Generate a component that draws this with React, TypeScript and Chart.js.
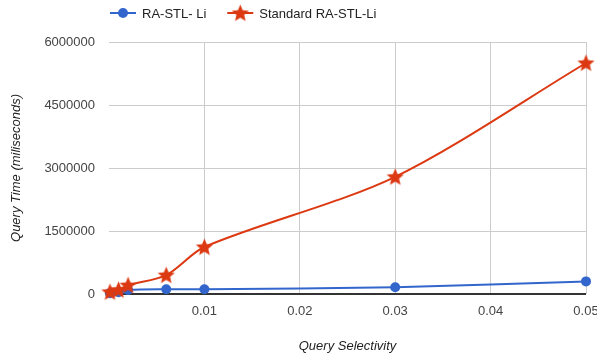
import { useEffect, useRef } from 'react';
import { Chart, registerables } from 'chart.js';

Chart.register(...registerables);

const selectivity = [0.0001, 0.001, 0.002, 0.006, 0.01, 0.03, 0.05];
const raStlLi = [20000, 40000, 95000, 115000, 115000, 160000, 300000];
const standardRaStlLi = [50000, 100000, 210000, 450000, 1120000, 2790000, 5500000];
const seriesLabels = ['RA-STL- Li', 'Standard RA-STL-Li'];
const seriesColors = ['#3366cc', '#dc3912'];
const yTicks = [0, 1500000, 3000000, 4500000, 6000000];
const xTicks = [0.01, 0.02, 0.03, 0.04, 0.05];
const xTitle = 'Query Selectivity';
const yTitle = 'Query Time (miliseconds)';

const FONT = '"Liberation Sans", Arial, sans-serif';

function makeStar(color: string, size: number) {
  const c = document.createElement('canvas');
  c.width = size;
  c.height = size;
  const ctx = c.getContext('2d')!;
  const cx = size / 2;
  const cy = size / 2 + 0.6;
  const outer = size / 2 - 0.5;
  const inner = outer * 0.45;
  ctx.beginPath();
  for (let i = 0; i < 10; i++) {
    const r = i % 2 === 0 ? outer : inner;
    const a = -Math.PI / 2 + (i * Math.PI) / 5;
    const px = cx + r * Math.cos(a);
    const py = cy + r * Math.sin(a);
    if (i === 0) ctx.moveTo(px, py);
    else ctx.lineTo(px, py);
  }
  ctx.closePath();
  ctx.fillStyle = color;
  ctx.fill();
  return c;
}

export default function App() {
  const ref = useRef<HTMLCanvasElement | null>(null);

  useEffect(() => {
    if (!ref.current) return;
    const star = makeStar(seriesColors[1], 19);

    const legendPlugin = {
      id: 'customLegend',
      afterDraw(chart: any) {
        const ctx = chart.ctx;
        ctx.save();
        ctx.font = `13px ${FONT}`;
        ctx.textBaseline = 'middle';
        ctx.textAlign = 'left';
        let x = 110;
        const y = 13;
        chart.data.datasets.forEach((ds: any, i: number) => {
          ctx.strokeStyle = ds.borderColor;
          ctx.lineWidth = 2;
          ctx.beginPath();
          ctx.moveTo(x, y);
          ctx.lineTo(x + 26, y);
          ctx.stroke();
          if (i === 0) {
            ctx.fillStyle = ds.borderColor;
            ctx.beginPath();
            ctx.arc(x + 13, y, 5, 0, Math.PI * 2);
            ctx.fill();
          } else {
            ctx.drawImage(star, x + 13 - star.width / 2, y - star.height / 2);
          }
          ctx.fillStyle = '#222';
          ctx.fillText(ds.label, x + 32, y + 1);
          x += 32 + ctx.measureText(ds.label).width + 21;
        });
        ctx.restore();
      },
    };

    const chart = new Chart(ref.current, {
      type: 'line',
      data: {
        datasets: [
          {
            label: seriesLabels[0],
            data: selectivity.map((x, i) => ({ x, y: raStlLi[i] })),
            borderColor: seriesColors[0],
            backgroundColor: seriesColors[0],
            borderWidth: 2,
            pointRadius: 5,
            pointBorderWidth: 0,
            pointHoverRadius: 5,
            pointStyle: 'circle',
            tension: 0.3,
            order: 1,
            clip: false as any,
          },
          {
            label: seriesLabels[1],
            data: selectivity.map((x, i) => ({ x, y: standardRaStlLi[i] })),
            borderColor: seriesColors[1],
            backgroundColor: seriesColors[1],
            borderWidth: 2,
            pointStyle: star as any,
            pointRadius: 9,
            tension: 0.3,
            order: 0,
            clip: false as any,
          },
        ],
      },
      options: {
        animation: false,
        responsive: false,
        maintainAspectRatio: false,
        layout: { padding: { top: 42, right: 11, left: 0, bottom: 0 } },
        plugins: {
          legend: { display: false },
          tooltip: { enabled: false },
        },
        scales: {
          x: {
            type: 'linear',
            min: 0,
            max: 0.05,
            afterBuildTicks: (scale: any) => {
              scale.ticks = [{ value: 0 }, ...xTicks.map((v) => ({ value: v }))];
            },
            afterFit: (scale: any) => {
              scale.height = 62;
              scale.paddingLeft = 0;
              scale.paddingRight = 0;
            },
            grid: {
              drawTicks: false,
              color: (c: any) => (c.tick && c.tick.value === 0 ? 'rgba(0,0,0,0)' : '#cccccc'),
              lineWidth: 1,
            },
            border: { display: false },
            ticks: {
              padding: 10,
              color: '#444',
              font: { family: FONT, size: 13 },
              maxRotation: 0,
              callback: (v: any) => (v === 0 ? '' : String(v)),
            },
            title: {
              display: true,
              text: xTitle,
              color: '#222',
              font: { family: FONT, size: 13, style: 'italic' },
              padding: { top: 0, bottom: 2 },
            },
          },
          y: {
            type: 'linear',
            min: 0,
            max: 6000000,
            afterBuildTicks: (scale: any) => {
              scale.ticks = yTicks.map((v) => ({ value: v }));
            },
            afterFit: (scale: any) => {
              scale.width = 109;
            },
            grid: {
              drawTicks: false,
              color: (c: any) => (c.tick && c.tick.value === 0 ? '#333333' : '#cccccc'),
              lineWidth: (c: any) => (c.tick && c.tick.value === 0 ? 2 : 1),
            },
            border: { display: false },
            ticks: {
              padding: 14,
              color: '#444',
              font: { family: FONT, size: 13 },
              callback: (v: any) => String(v),
            },
            title: {
              display: true,
              text: yTitle,
              color: '#222',
              font: { family: FONT, size: 13, style: 'italic' },
              padding: { top: 9, bottom: 0 },
            },
          },
        },
      },
      plugins: [legendPlugin],
    });
    return () => chart.destroy();
  }, []);

  return (
    <div style={{ position: 'fixed', left: 0, top: 0, width: 597, height: 356, background: '#fff' }}>
      <canvas ref={ref} width={597} height={356} style={{ width: 597, height: 356 }} />
    </div>
  );
}
